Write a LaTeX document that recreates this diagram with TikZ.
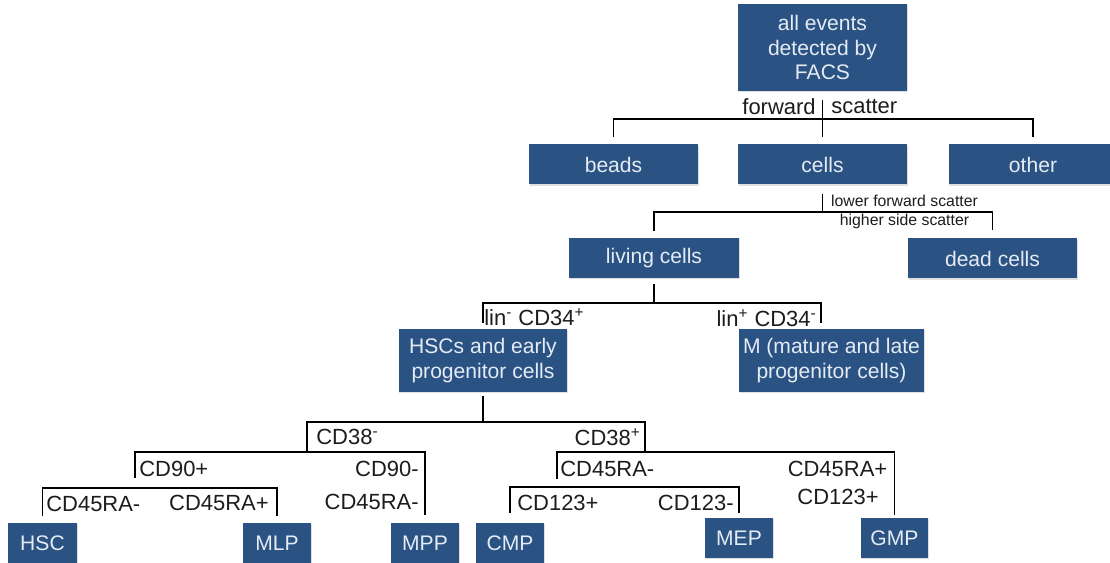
\documentclass[tikz,border=0pt]{standalone}
\usepackage{fontspec}
\setmainfont{Liberation Sans}
\usetikzlibrary{calc,shadows}
\definecolor{boxblue}{HTML}{2A5283}
\definecolor{boxtext}{HTML}{E4EBF3}
\definecolor{lbltext}{HTML}{1C1C1C}

\begin{document}
\begin{tikzpicture}[x=0.02cm,y=-0.02cm,
  box/.style={fill=boxblue,text=boxtext,inner sep=0pt,align=center,
    font=\fontsize{12}{14.2}\selectfont,
    drop shadow={shadow xshift=0.4pt,shadow yshift=-0.7pt,opacity=0.25}},
  lbl/.style={text=lbltext,inner sep=0pt,font=\fontsize{12.5}{15}\selectfont},
  smalllbl/.style={text=lbltext,inner sep=0pt,align=center,font=\fontsize{9}{10.8}\selectfont},
  tree/.style={line width=1.1pt,black}]

\clip (0,0) rectangle (1110,563);

% === boxes ===
\node[box,minimum width=3.38cm,minimum height=1.74cm] (all) at (822.5,47.5) {all events\\detected by\\FACS};

\node[box,minimum width=3.38cm,minimum height=0.8cm] (beads) at (613.5,164.5) {beads};
\node[box,minimum width=3.38cm,minimum height=0.8cm] (cells) at (822.5,164.5) {cells};
\node[box,minimum width=3.38cm,minimum height=0.8cm] (other) at (1033,164.5) {other};

\node[box,minimum width=3.4cm,minimum height=0.8cm] (living) at (654,258) {living cells};
\node[box,minimum width=3.38cm,minimum height=0.8cm] (dead) at (992.5,258.5) {dead cells};

\node[box,minimum width=3.38cm,minimum height=1.26cm] (hscs) at (483,360.5) {HSCs and early\\progenitor cells};
\node[box,minimum width=3.7cm,minimum height=1.26cm] (mature) at (831.5,360.5) {M (mature and late\\progenitor cells)};

\node[box,minimum width=1.38cm,minimum height=0.8cm] (hsc) at (42.5,543) {HSC};
\node[box,minimum width=1.36cm,minimum height=0.8cm] (mlp) at (277,543) {MLP};
\node[box,minimum width=1.36cm,minimum height=0.8cm] (mpp) at (425,543) {MPP};
\node[box,minimum width=1.36cm,minimum height=0.8cm] (cmp) at (510,543) {CMP};
\node[box,minimum width=1.36cm,minimum height=0.8cm] (mep) at (739,538) {MEP};
\node[box,minimum width=1.36cm,minimum height=0.8cm] (gmp) at (894.5,538) {GMP};

% === bar junctions ===
\coordinate (barfs) at (822.5,119);
\coordinate (barsc) at (822.5,212);
\coordinate (barlin) at (654,303);
\coordinate (linpos) at (821,323);
\coordinate (barcd) at (483,422);
\coordinate (cdneg) at (307,452);
\coordinate (cdpos) at (645,452);
\coordinate (cdninep) at (135,478);
\coordinate (barra) at (135,488);
\coordinate (raneg) at (557,479);
\coordinate (bartt) at (557,487);

% === connectors ===
% forward scatter
\draw[tree] ($(all.south)+(0,9)$) -- ($(cells.north)+(0,-7)$);
\draw[tree] ($(beads.north)+(0,-7)$) |- (barfs) -| ($(other.north)+(0,-7)$);

% side scatter
\draw[tree] ($(cells.south)+(0,9)$) -- (barsc);
\draw[tree] ($(living.north)+(0,-7)$) |- (barsc) -| ($(dead.north)+(0,-8)$);

% lin / CD34
\draw[tree] ($(living.south)+(0,6)$) -- (barlin);
\draw[tree] ($(hscs.north)+(0,-6)$) |- (barlin) -| (linpos);

% CD38
\draw[tree] ($(hscs.south)+(0,4)$) -- (barcd);
\draw[tree] (cdneg) |- (barcd) -| (cdpos);

% CD90
\draw[tree] (cdninep) |- (cdneg) -| ($(mpp.north)+(0,-8)$);
\draw[tree] ($(hsc.north)+(0,-7)$) |- (barra) -| ($(mlp.north)+(0,-7)$);

% CD45RA / CD123
\draw[tree] (raneg) |- (cdpos) -| ($(gmp.north)+(0,-3)$);
\draw[tree] ($(cmp.north)+(0,-10)$) |- (bartt) -| ($(mep.north)+(0,-5)$);

% === gate labels ===
\node[lbl,anchor=east] (fwd) at (816,107) {forward};
\node[lbl,anchor=west] (sct) at (831,107) {scatter};
\node[smalllbl] (lfs) at (904.5,211.5) {lower forward scatter\\higher side scatter};

\node[lbl,anchor=west] (linneg) at (484,317) {lin\textsuperscript{-} CD34\textsuperscript{+}};
\node[lbl,anchor=east] (linposl) at (817,318) {lin\textsuperscript{+} CD34\textsuperscript{-}};

\node[lbl,anchor=west] (cdnegl) at (316,437) {CD38\textsuperscript{-}};
\node[lbl,anchor=east] (cdposl) at (641,437) {CD38\textsuperscript{+}};

\node[lbl,anchor=west] (ninep) at (139,469) {CD90+};
\node[lbl,anchor=east] (ninen) at (419,469) {CD90-};
\node[lbl,anchor=east] (ninera) at (419,502) {CD45RA-};
\node[lbl,anchor=west] (hscra) at (46,504) {CD45RA-};
\node[lbl,anchor=east] (mlpra) at (269,503) {CD45RA+};

\node[lbl,anchor=west] (ranegl) at (560,469) {CD45RA-};
\node[lbl] (raposl) at (837.5,469) {CD45RA+};
\node[lbl] (gmptt) at (838,497) {CD123+};
\node[lbl,anchor=west] (cmptt) at (517,503) {CD123+};
\node[lbl,anchor=east] (meptt) at (734,503) {CD123-};

\end{tikzpicture}
\end{document}
